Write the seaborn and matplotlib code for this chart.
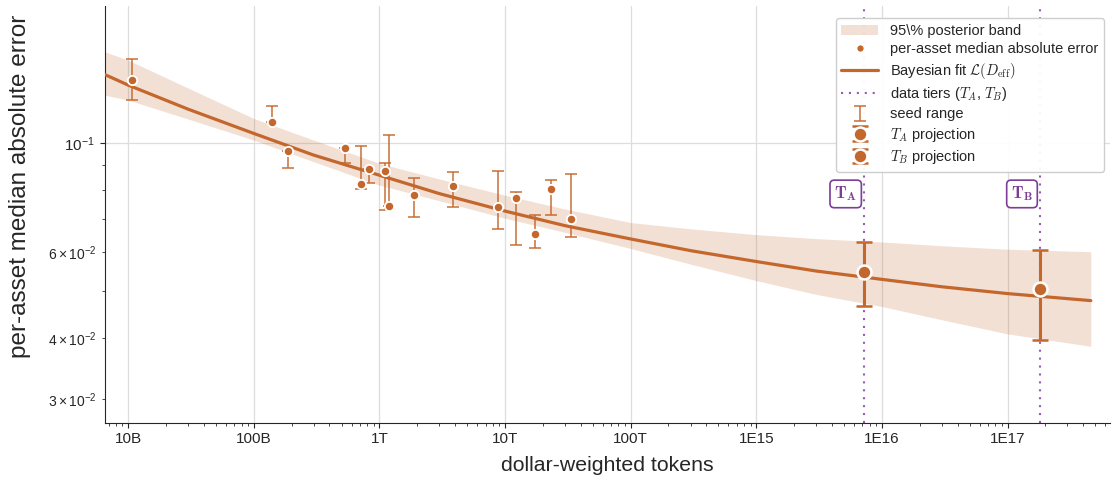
import seaborn as sns
import matplotlib.pyplot as plt
from matplotlib.lines import Line2D

# fitted curve and 95% band
fit_x = [6.5e9, 1e10, 3e10, 1e11, 3e11, 1e12, 3e12, 1e13, 3e13, 1e14, 3e14,
         1e15, 3e15, 1e16, 3e16, 1e17, 4.6e17]
fit_med = [0.1378, 0.1311, 0.1171, 0.1045, 0.0944, 0.0859, 0.0788, 0.0726, 0.0678,
           0.0637, 0.0603, 0.0573, 0.0548, 0.0527, 0.0509, 0.0493, 0.0477]
band_lo = [0.1251, 0.1222, 0.1118, 0.1013, 0.0915, 0.0820, 0.0762, 0.0702, 0.0657,
           0.0609, 0.0566, 0.0524, 0.0491, 0.0464, 0.0436, 0.0408, 0.0385]
band_hi = [0.1533, 0.1474, 0.1293, 0.1121, 0.1013, 0.0908, 0.0844, 0.0782, 0.0733,
           0.0688, 0.0668, 0.0650, 0.0638, 0.0628, 0.0617, 0.0607, 0.0600]

# per-asset medians and seed ranges
seed_x = [1.07e10, 1.39e11, 1.87e11, 5.35e11, 7.2e11, 8.24e11, 1.10e12, 1.20e12,
          1.90e12, 3.84e12, 8.83e12, 1.23e13, 1.73e13, 2.32e13, 3.38e13]
seed_med = [0.1340, 0.1105, 0.0963, 0.0978, 0.0825, 0.0886, 0.0877, 0.0745,
            0.0784, 0.0817, 0.0739, 0.0773, 0.0653, 0.0804, 0.0701]
seed_lo = [0.1220, 0.1105, 0.0888, 0.0910, 0.0804, 0.0830, 0.0730, 0.0745,
           0.0707, 0.0741, 0.0667, 0.0619, 0.0611, 0.0714, 0.0642]
seed_hi = [0.1484, 0.1186, 0.0963, 0.0978, 0.0987, 0.0886, 0.0910, 0.1035,
           0.0847, 0.0873, 0.0878, 0.0794, 0.0713, 0.0838, 0.0862]

# tier projections
proj_x = [7.2e15, 1.81e17]
proj_med = [0.0545, 0.0503]
proj_lo = [0.0466, 0.0397]
proj_hi = [0.0627, 0.0604]
tier_labels = [r"$\mathbf{T_A}$", r"$\mathbf{T_B}$"]
proj_labels = [r"$T_A$ projection", r"$T_B$ projection"]

x_tick_vals = [1e10, 1e11, 1e12, 1e13, 1e14, 1e15, 1e16, 1e17]
x_tick_labels = ["10B", "100B", "1T", "10T", "100T", "1E15", "1E16", "1E17"]

orange = "#C4672C"
purple = "#9B59B6"
dark_purple = "#7D3C98"

sns.set_style("ticks")
plt.rcParams['font.family'] = ['Liberation Sans', 'DejaVu Sans']
plt.rcParams['mathtext.fontset'] = 'cm'

fig, ax = plt.subplots(figsize=(11.13, 4.79), dpi=100)
fig.subplots_adjust(left=0.094, right=0.997, top=0.9875, bottom=0.1175)

ax.set_xscale("log")
ax.set_yscale("log")

band = ax.fill_between(fit_x, band_lo, band_hi, color=orange, alpha=0.2, lw=0, zorder=1)
sns.lineplot(x=fit_x, y=fit_med, ax=ax, color=orange, lw=2.3, zorder=3)
fit_handle = Line2D([], [], color=orange, lw=2.3)

tier_handle = None
for px, lab in zip(proj_x, tier_labels):
    tier_handle = ax.axvline(px, color=purple, lw=1.5, ls=(0, (1, 2.8)), zorder=1.5)
    ax.annotate(lab, xy=(px, 0.549), xycoords=("data", "axes fraction"),
                xytext=(-5, 0), textcoords="offset points", ha="right", va="center",
                fontsize=12, color=dark_purple,
                bbox=dict(boxstyle="round,pad=0.26", fc="white", ec=dark_purple, lw=1.2))

seed_err = [[m - lo for m, lo in zip(seed_med, seed_lo)],
            [hi - m for m, hi in zip(seed_med, seed_hi)]]
seed_handle = ax.errorbar(seed_x, seed_med, yerr=seed_err, fmt="none", ecolor=orange,
                          alpha=0.8, elinewidth=1.3, capsize=4, capthick=1.3, zorder=2.5)
sns.scatterplot(x=seed_x, y=seed_med, ax=ax, color=orange, s=45, edgecolor="white",
                linewidth=1.3, zorder=4)
point_handle = Line2D([], [], marker="o", ls="none", color=orange, markersize=5.5,
                      markeredgecolor="white")

proj_handles = []
for px, m, lo, hi in zip(proj_x, proj_med, proj_lo, proj_hi):
    h = ax.errorbar([px], [m], yerr=[[m - lo], [hi - m]], fmt="o", color=orange,
                    markersize=10, markeredgecolor="white", markeredgewidth=1.8,
                    elinewidth=2.2, capsize=5.5, capthick=2.2, zorder=5)
    proj_handles.append(h)

ax.set_xlim(6.5e9, 6.5e17)
ax.set_ylim(0.0269, 0.19)
ax.set_xticks(x_tick_vals, x_tick_labels)
ax.tick_params(axis="both", which="major", labelsize=11)
ax.grid(True, which="major", color="#dddddd", lw=0.9, zorder=0)
ax.set_axisbelow(True)
sns.despine(ax=ax)

ax.set_xlabel("dollar-weighted tokens", fontsize=15.3, labelpad=7)
ax.set_ylabel("per-asset median absolute error", fontsize=17.5)
ax.yaxis.set_label_coords(-0.073, 0.566)

handles = [band, point_handle, fit_handle, tier_handle, seed_handle] + proj_handles
labels = [r"95\% posterior band", "per-asset median absolute error",
          r"Bayesian fit $\mathcal{L}(D_{\rm eff})$", r"data tiers ($T_A$, $T_B$)",
          "seed range"] + proj_labels
leg = ax.legend(handles, labels, loc="upper right", bbox_to_anchor=(0.994, 0.971),
                borderaxespad=0, fontsize=10.5, handlelength=2.5, labelspacing=0.3,
                frameon=True, framealpha=0.95, edgecolor="#cccccc")

fig.savefig("out.png", dpi=100)
